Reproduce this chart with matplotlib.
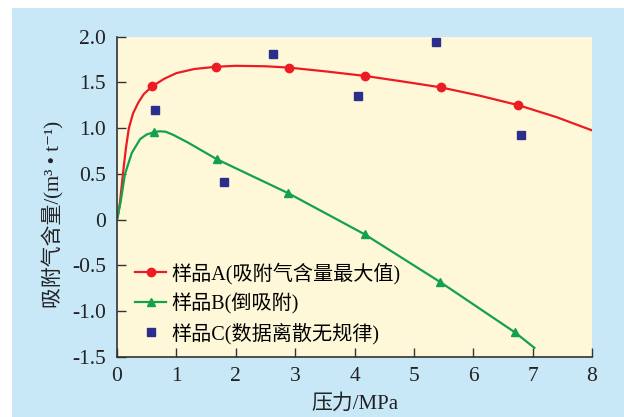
import matplotlib
matplotlib.use("Agg")
import matplotlib.pyplot as plt
from matplotlib.patches import Rectangle

plt.rcParams['font.family'] = ['Liberation Serif', 'Noto Sans CJK SC', 'DejaVu Sans']

a_x = [0.59, 1.67, 2.90, 4.17, 5.45, 6.76]
a_y = [1.455, 1.67, 1.66, 1.57, 1.445, 1.25]
a_fit_x = [0, 0.02, 0.05, 0.1, 0.15, 0.2, 0.27, 0.36, 0.45, 0.59, 0.8, 1.0,
           1.3, 1.67, 2.0, 2.5, 2.9, 3.5, 4.17, 4.8, 5.45, 6.1, 6.76, 7.4, 8.0]
a_fit_y = [0, 0.06, 0.19, 0.5, 0.78, 1.0, 1.16, 1.28, 1.37, 1.455, 1.54, 1.60,
           1.645, 1.67, 1.68, 1.675, 1.66, 1.62, 1.57, 1.51, 1.445, 1.355,
           1.25, 1.12, 0.975]

# sample B
b_x = [0.62, 1.68, 2.88, 4.17, 5.44, 6.70]
b_y = [0.955, 0.66, 0.29, -0.16, -0.68, -1.23]
b_fit_x = [0, 0.02, 0.06, 0.135, 0.25, 0.39, 0.5, 0.62, 0.72, 0.82, 0.95,
           1.2, 1.68, 2.88, 4.17, 5.44, 6.70, 7.03]
b_fit_y = [0, 0.06, 0.19, 0.5, 0.73, 0.88, 0.93, 0.955, 0.965, 0.96, 0.925,
           0.84, 0.66, 0.29, -0.16, -0.68, -1.23, -1.40]

# sample C (scattered)
c_x = [0.64, 1.80, 2.63, 4.06, 5.38, 6.80]
c_y = [1.20, 0.41, 1.81, 1.35, 1.935, 0.92]

labels = ['样品A(吸附气含量最大值)', '样品B(倒吸附)', '样品C(数据离散无规律)']
xticks = [0, 1, 2, 3, 4, 5, 6, 7, 8]
yticks = [2.0, 1.5, 1.0, 0.5, 0, -0.5, -1.0, -1.5]
ytick_labels = ['2.0', '1.5', '1.0', '0.5', '0', '-0.5', '-1.0', '-1.5']

red = '#ec1c24'
green = '#12a24a'
blue = '#2b2e8c'

fig = plt.figure(figsize=(6.24, 4.17), dpi=100, facecolor='white')
fig.patches.append(Rectangle((12 / 624, 0), 1 - 12 / 624, (417 - 8) / 417,
                             transform=fig.transFigure, facecolor='#c8e8f8',
                             edgecolor='none', zorder=-10))
ax = fig.add_axes([117 / 624, 60 / 417, 475 / 624, 320.5 / 417])
ax.set_facecolor('#fff8d8')

ax.plot(a_fit_x, a_fit_y, color=red, lw=1.6)
ax.plot(b_fit_x, b_fit_y, color=green, lw=1.6)
ax.plot(a_x, a_y, 'o', color=red, ms=6)
ax.plot(b_x, b_y, '^', color=green, ms=6)
ax.plot(c_x, c_y, 's', color=blue, ms=5.5)

# legend handles
h1, = ax.plot([], [], '-o', color=red, lw=1.6, ms=6)
h2, = ax.plot([], [], '-^', color=green, lw=1.6, ms=6)
h3, = ax.plot([], [], 's', color=blue, ms=5.5)
ax.legend([h1, h2, h3], labels, loc='lower left', bbox_to_anchor=(0.038, 0.04),
          frameon=False, fontsize=14.5, handlelength=1.55, handletextpad=0.25,
          labelspacing=0.42, borderaxespad=0, borderpad=0)

ax.set_xlim(0, 8)
ax.set_ylim(-1.5, 2.0)
ax.set_xticks(xticks)
ax.set_xticklabels([str(t) for t in xticks])
ax.set_yticks(yticks)
ax.set_yticklabels(ytick_labels)
ax.tick_params(direction='in', length=6.5, width=1, labelsize=15.5,
               color='#333333', labelcolor='#222222')
ax.tick_params(axis='x', pad=7)
ax.tick_params(axis='y', pad=8)
for s in ['top', 'right']:
    ax.spines[s].set_visible(False)
for s in ['left', 'bottom']:
    ax.spines[s].set_color('#333333')
    ax.spines[s].set_linewidth(1.2)

ax.set_xlabel('压力/MPa', fontsize=15, color='#222222', labelpad=6)
ax.set_ylabel('吸附气含量/(m³ • t⁻¹)', fontsize=15, color='#222222')
ax.yaxis.set_label_coords(-0.11, 0.445)

fig.savefig('out.png', dpi=100, facecolor=fig.get_facecolor())
